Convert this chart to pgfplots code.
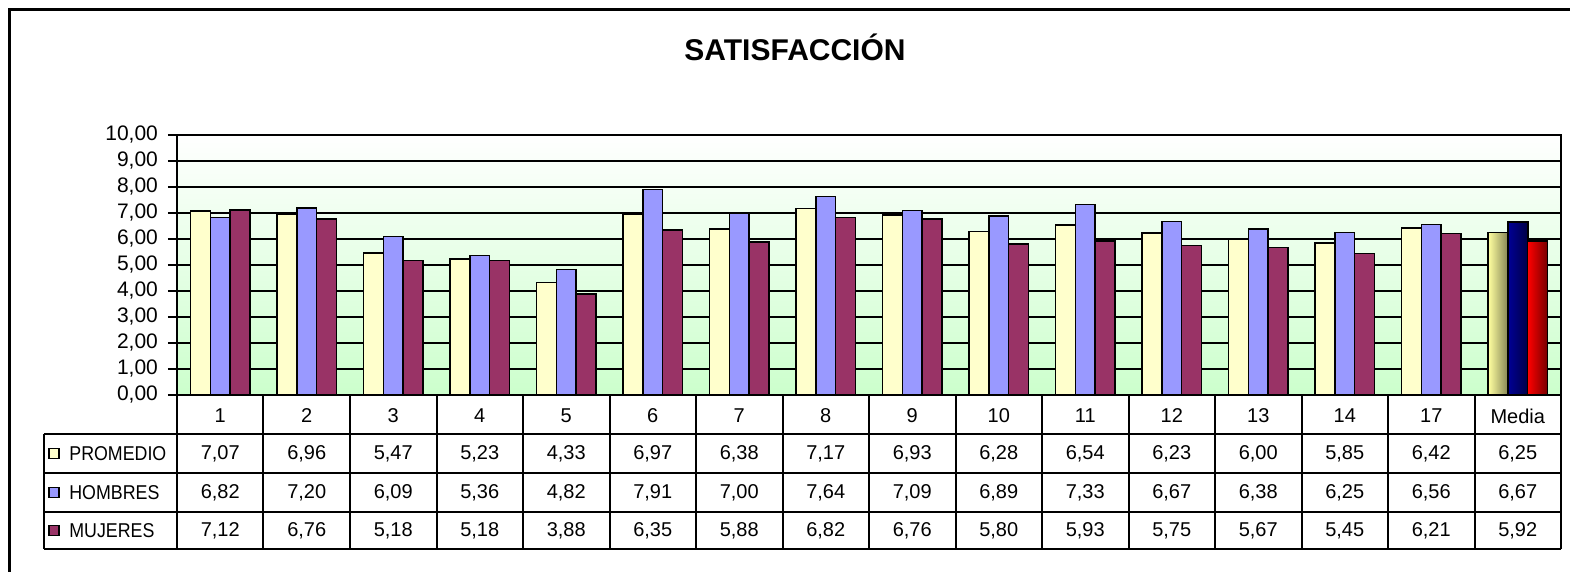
\documentclass[border=0pt]{standalone}
\usepackage{pgfplots}
\pgfplotsset{compat=1.18}
\usepackage{pgfplotstable}
\usepackage{fontspec}
\setmainfont{Liberation Sans}
\newfontfamily\estrecha[FakeStretch=0.89]{Liberation Sans}

\definecolor{promc}{RGB}{255,255,204}
\definecolor{hombc}{RGB}{153,153,255}
\definecolor{mujc}{RGB}{153,51,102}
\definecolor{fondo}{RGB}{204,255,204}
\definecolor{amaA}{RGB}{255,255,160}
\definecolor{amaB}{RGB}{135,135,85}
\definecolor{azulA}{RGB}{0,0,150}
\definecolor{azulB}{RGB}{0,0,70}
\definecolor{rojoA}{RGB}{255,0,0}
\definecolor{rojoB}{RGB}{120,0,0}

\pgfkeys{/pgf/number format/.cd, use comma, fixed, fixed zerofill, precision=2, assume math mode=true}

\pgfplotstableread{
x lab prom homb muj
0 1 7.07 6.82 7.12
1 2 6.96 7.20 6.76
2 3 5.47 6.09 5.18
3 4 5.23 5.36 5.18
4 5 4.33 4.82 3.88
5 6 6.97 7.91 6.35
6 7 6.38 7.00 5.88
7 8 7.17 7.64 6.82
8 9 6.93 7.09 6.76
9 10 6.28 6.89 5.80
10 11 6.54 7.33 5.93
11 12 6.23 6.67 5.75
12 13 6.00 6.38 5.67
13 14 5.85 6.25 5.45
14 17 6.42 6.56 6.21
15 Media 6.25 6.67 5.92
}\datos

\begin{document}
\begin{tikzpicture}
\path[use as bounding box] (-88.5pt,-88.5pt) rectangle (696.5pt,197.5pt);
% marco exterior
\draw[line width=1.5pt] (-83.75pt,-95pt) -- (-83.75pt,192.75pt) -- (705pt,192.75pt);
\node[font=\bfseries\fontsize{15}{18}\selectfont] at (309pt,174pt) {SATISFACCIÓN};

\begin{axis}[
  name=ax, at={(0pt,0pt)}, anchor=south west,
  scale only axis, width=692pt, height=130pt,
  xmin=-0.5, xmax=15.5, ymin=0, ymax=10,
  xtick={0,...,15},
  xticklabels from table={\datos}{lab},
  xtick style={draw=none},
  xticklabel style={anchor=center, yshift=-6pt, font=\fontsize{10}{12}\selectfont},
  ytick={0,...,10},
  ytick pos=left,
  tick align=outside,
  major tick length=4.5pt,
  ytick style={line width=0.75pt, black},
  yticklabel style={font=\fontsize{10.5}{12}\selectfont, xshift=-1.5pt},
  ymajorgrids,
  grid style={black, line width=0.75pt},
  axis line style={line width=1pt},
  axis background/.style={top color=white, bottom color=fondo},
  bar width=9.85pt,
  clip=false,
  every node near coord/.append style={font=\fontsize{10}{12}\selectfont},
]
\addplot[ybar, bar shift=-9.85pt, fill=promc, draw=black, line width=0.75pt,
  restrict x to domain=0:14] table[x=x, y=prom] {\datos};
\addplot[ybar, bar shift=0pt, fill=hombc, draw=black, line width=0.75pt,
  restrict x to domain=0:14] table[x=x, y=homb] {\datos};
\addplot[ybar, bar shift=9.85pt, fill=mujc, draw=black, line width=0.75pt,
  restrict x to domain=0:14] table[x=x, y=muj] {\datos};
% columna Media con degradado
\addplot[ybar, bar shift=-9.85pt, left color=amaA, right color=amaB, draw=black, line width=0.75pt,
  restrict x to domain=15:15] table[x=x, y=prom] {\datos};
\addplot[ybar, bar shift=0pt, left color=azulA, right color=azulB, draw=black, line width=1pt,
  restrict x to domain=15:15] table[x=x, y=homb] {\datos};
\addplot[ybar, bar shift=9.85pt, left color=rojoA, right color=rojoB, draw=black, line width=0.75pt,
  restrict x to domain=15:15] table[x=x, y=muj] {\datos};
% valores de la tabla
\addplot[only marks, mark=none, nodes near coords, point meta=explicit,
  every node near coord/.append style={anchor=center}]
  table[x=x, y expr=-2.25, meta=prom] {\datos};
\addplot[only marks, mark=none, nodes near coords, point meta=explicit,
  every node near coord/.append style={anchor=center}]
  table[x=x, y expr=-3.75, meta=homb] {\datos};
\addplot[only marks, mark=none, nodes near coords, point meta=explicit,
  every node near coord/.append style={anchor=center}]
  table[x=x, y expr=-5.21, meta=muj] {\datos};
\end{axis}

% lineas de la tabla
\begin{scope}[line width=1pt]
  \foreach \y in {-19.5,-39,-58.5,-77} \draw (-66.5pt,\y pt) -- (692pt,\y pt);
  \draw (-66.5pt,-19.5pt) -- (-66.5pt,-77pt);
  \foreach \k in {0,...,16} \draw (\k*43.25pt,0pt) -- (\k*43.25pt,-77pt);
\end{scope}
% leyenda
\foreach \yc/\col/\txt in {-29.25/promc/PROMEDIO, -48.75/hombc/HOMBRES, -67.75/mujc/MUJERES}{
  \draw[fill=\col, line width=0.75pt] (-64pt,\yc pt-2.5pt) rectangle (-59pt,\yc pt+2.5pt);
  \node[anchor=west, inner sep=0pt, font=\estrecha\fontsize{10}{12}\selectfont] at (-54pt,\yc pt) {\txt};
}
\end{tikzpicture}
\end{document}
